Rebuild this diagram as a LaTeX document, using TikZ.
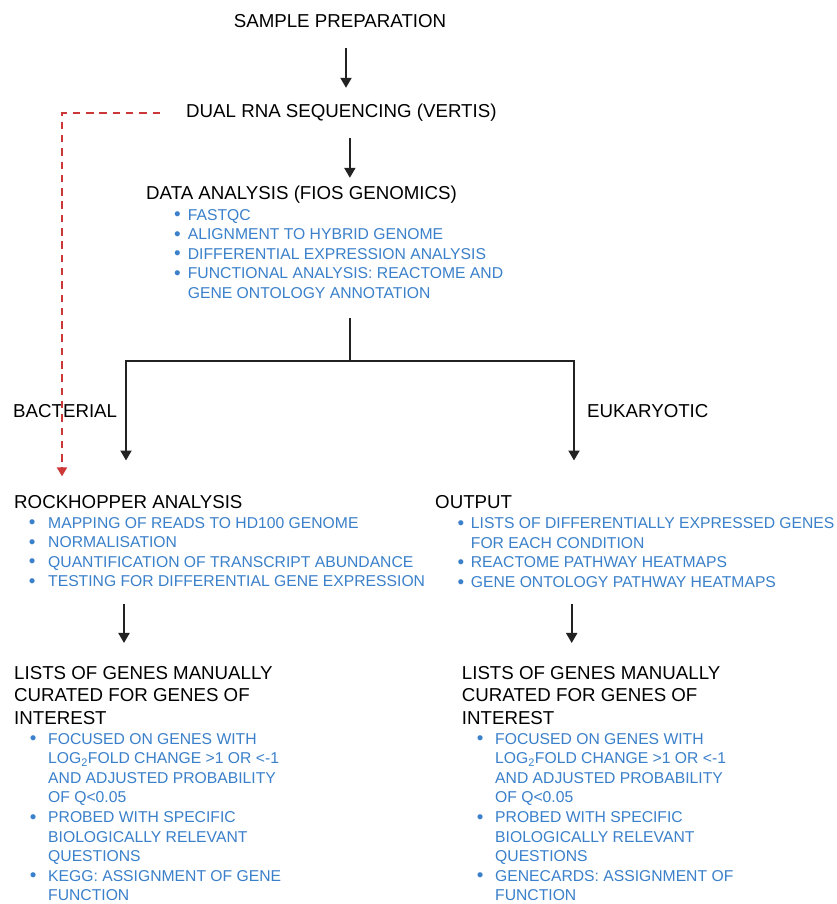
\documentclass[tikz,border=0pt]{standalone}
\usepackage{fontspec}
\setmainfont{Liberation Sans}
\usetikzlibrary{arrows.meta,calc}
\definecolor{bblue}{RGB}{58,128,202}
\definecolor{dred}{RGB}{204,55,55}
\definecolor{ink}{RGB}{34,34,34}
\newcommand\bul[1]{\llap{\makebox[0pt][c]{\raisebox{-0.7pt}{\scalebox{1.2}{\textbullet}}}\hspace{#1}}}
\begin{document}
\begin{tikzpicture}[x=1pt,y=-1pt,
 head/.style={inner sep=0pt, text=black, font=\fontsize{18.7}{22.6}\selectfont, text height=13.5pt, text depth=4pt},
 mhead/.style={inner sep=0pt, text=black, font=\fontsize{18.7}{22.6}\selectfont},
 blist/.style={inner sep=0pt, text=bblue, font=\fontsize{15.7}{19.6}\selectfont},
 arr/.style={draw=ink, line width=2pt, -{Triangle[width=11pt,length=10pt]}},
 conn/.style={draw=ink, line width=2pt},
 redarr/.style={draw=dred, line width=2.5pt, dash pattern=on 7.5pt off 5.8pt, -{Triangle[width=10pt,length=9pt]}},
]
\fill[white] (0,0) rectangle (837,904);
\useasboundingbox (0,0) rectangle (837,904);

% headings
\node[head, anchor=base] (sample) at (340,28) {SAMPLE PREPARATION};
\node[head, anchor=base west] (dual) at (186,118) {DUAL RNA SEQUENCING (VERTIS)};
\node[head, anchor=base west] (data) at (146,200) {DATA ANALYSIS (FIOS GENOMICS)};
\node[blist, anchor=base west] (dlist) at (187.7,220) {\begin{tabular}[t]{@{}l@{}}
\bul{10.5pt}FASTQC\\
\bul{10.5pt}ALIGNMENT TO HYBRID GENOME\\
\bul{10.5pt}DIFFERENTIAL EXPRESSION ANALYSIS\\
\bul{10.5pt}FUNCTIONAL ANALYSIS: REACTOME AND\\
GENE ONTOLOGY ANNOTATION
\end{tabular}};

\node[head, anchor=base west] (bact) at (13,417) {BACTERIAL};
\node[head, anchor=base west] (euk) at (587,417) {EUKARYOTIC};

\node[head, anchor=base west] (rock) at (14,508) {ROCKHOPPER ANALYSIS};
\node[blist, anchor=base west] (rlist) at (48,528) {\begin{tabular}[t]{@{}l@{}}
\bul{16pt}MAPPING OF READS TO HD100 GENOME\\
\bul{16pt}NORMALISATION\\
\bul{16pt}QUANTIFICATION OF TRANSCRIPT ABUNDANCE\\
\bul{16pt}TESTING FOR DIFFERENTIAL GENE EXPRESSION
\end{tabular}};

\node[head, anchor=base west] (output) at (435,508) {OUTPUT};
\node[blist, anchor=base west] (olist) at (470.7,528.5) {\begin{tabular}[t]{@{}l@{}}
\bul{10pt}LISTS OF DIFFERENTIALLY EXPRESSED GENES\\
FOR EACH CONDITION\\
\bul{10pt}REACTOME PATHWAY HEATMAPS\\
\bul{10pt}GENE ONTOLOGY PATHWAY HEATMAPS
\end{tabular}};

\node[mhead, anchor=base west] (lhead) at (14,679) {\begin{tabular}[t]{@{}l@{}}
LISTS OF GENES MANUALLY\\
CURATED FOR GENES OF\\
INTEREST
\end{tabular}};
\node[blist, anchor=base west] (llist) at (48,744) {\begin{tabular}[t]{@{}l@{}}
\bul{15pt}FOCUSED ON GENES WITH\\
LOG\textsubscript{2}FOLD CHANGE >1 OR <-1\\
AND ADJUSTED PROBABILITY\\
OF Q<0.05\\
\bul{15pt}PROBED WITH SPECIFIC\\
BIOLOGICALLY RELEVANT\\
QUESTIONS\\
\bul{15pt}KEGG: ASSIGNMENT OF GENE\\
FUNCTION
\end{tabular}};

\node[mhead, anchor=base west] (rhead) at (461.7,679) {\begin{tabular}[t]{@{}l@{}}
LISTS OF GENES MANUALLY\\
CURATED FOR GENES OF\\
INTEREST
\end{tabular}};
\node[blist, anchor=base west] (rlist2) at (495,744) {\begin{tabular}[t]{@{}l@{}}
\bul{15pt}FOCUSED ON GENES WITH\\
LOG\textsubscript{2}FOLD CHANGE >1 OR <-1\\
AND ADJUSTED PROBABILITY\\
OF Q<0.05\\
\bul{15pt}PROBED WITH SPECIFIC\\
BIOLOGICALLY RELEVANT\\
QUESTIONS\\
\bul{15pt}GENECARDS: ASSIGNMENT OF\\
FUNCTION
\end{tabular}};

% connectors
\draw[arr] ($(sample.south)+(6,16)$) -- ($(sample.south |- dual.north)+(6,-16.5)$);
\draw[arr] ($(dual.south)+(8.5,16)$) -- ($(dual.south |- data.north)+(8.5,-8.5)$);
\draw[conn] ($(dual.south |- dlist.south)+(8.5,13.6)$) -- ++(0,43) coordinate (split);
\draw[arr, shorten >=33.8pt] (split) -| ($(rock.north west)+(112,0)$);
\draw[arr, shorten >=33.8pt] (split) -| ($(output.north west)+(139,0)$);
\draw[redarr, shorten >=18pt] ($(dual.west)+(-26,0)$) -| ($(rock.north west)+(48,0)$);
\draw[arr] ($(rock.west |- rlist.south)+(110,11)$) -- ($(rock.west |- lhead.north)+(110,-20)$);
\draw[arr] ($(output.west |- olist.south)+(136.7,11)$) -- ($(output.west |- rhead.north)+(136.7,-20)$);
\end{tikzpicture}
\end{document}
